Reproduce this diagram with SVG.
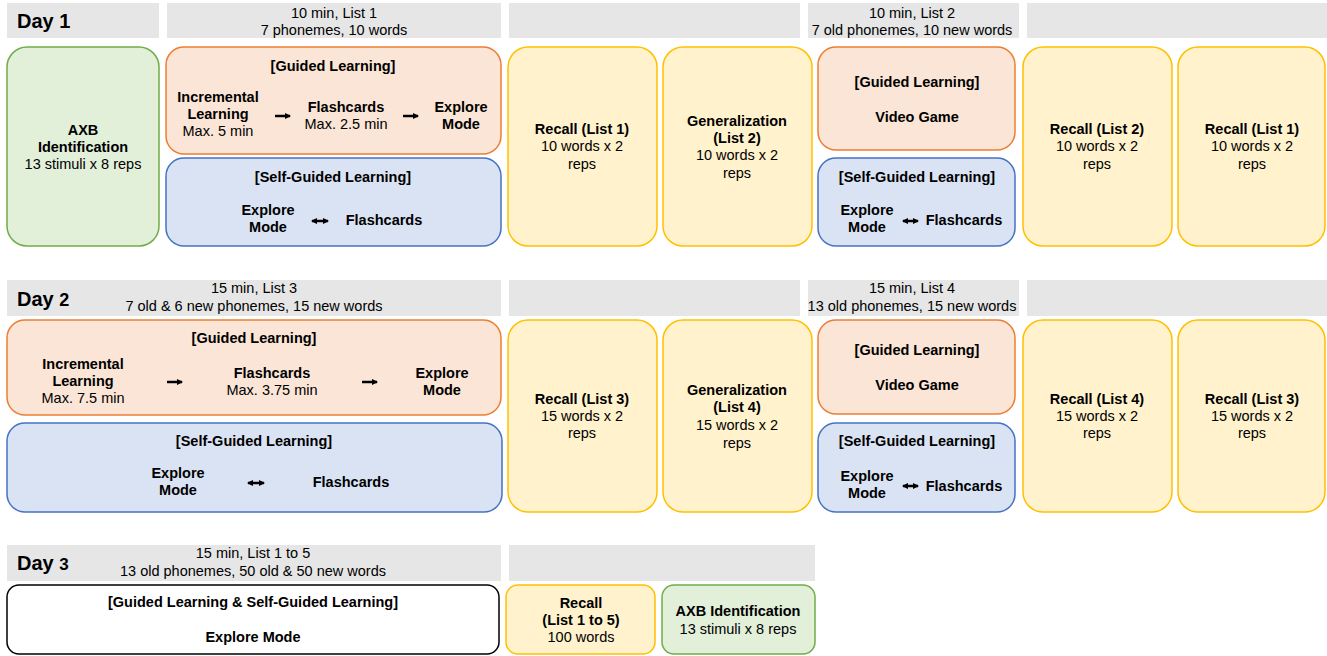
<svg xmlns="http://www.w3.org/2000/svg" width="1327" height="656" viewBox="0 0 1327 656">
<defs>
<style>
text{font-family:"Liberation Sans",Arial,sans-serif;font-size:14.5px;fill:#000;text-anchor:middle}
.b{font-weight:bold}
.day{font-weight:bold;font-size:20px;text-anchor:start}
.hdr{fill:#e6e6e6}
.green{fill:#e2efd9;stroke:#70ad47;stroke-width:1.5}
.orange{fill:#fbe5d6;stroke:#ed7d31;stroke-width:1.5}
.blue{fill:#dae3f3;stroke:#4472c4;stroke-width:1.5}
.yellow{fill:#fff2cc;stroke:#ffc000;stroke-width:1.5}
.white{fill:#fff;stroke:#000;stroke-width:1.5}
.arr{stroke:#000;stroke-width:2.5;fill:none}
</style>
<marker id="ah" viewBox="0 0 6 6" refX="5" refY="3" markerWidth="2.6" markerHeight="2.6" orient="auto-start-reverse" markerUnits="strokeWidth">
<path d="M0,0 L6,3 L0,6 z" fill="#000"/>
</marker>
</defs>
<rect width="1327" height="656" fill="#fff"/>

<g id="headers">
<rect class="hdr" x="7" y="3" width="152" height="35"/>
<text class="day" x="17" y="28">Day 1</text>
<rect class="hdr" x="167" y="3" width="334" height="35"/>
<text x="334" y="18">10 min, List 1</text>
<text x="334" y="35">7 phonemes, 10 words</text>
<rect class="hdr" x="509" y="3" width="291" height="35"/>
<rect class="hdr" x="808" y="3" width="211" height="35"/>
<text x="912" y="18">10 min, List 2</text>
<text x="912" y="35">7 old phonemes, 10 new words</text>
<rect class="hdr" x="1027" y="3" width="300" height="35"/>

<rect class="hdr" x="7" y="280" width="494" height="36"/>
<text class="day" x="17" y="306">Day <tspan font-size="18">2</tspan></text>
<text x="254" y="293">15 min, List 3</text>
<text x="254" y="311">7 old &amp; 6 new phonemes, 15 new words</text>
<rect class="hdr" x="509" y="280" width="291" height="36"/>
<rect class="hdr" x="808" y="280" width="211" height="36"/>
<text x="912" y="293">15 min, List 4</text>
<text x="912" y="311">13 old phonemes, 15 new words</text>
<rect class="hdr" x="1027" y="280" width="300" height="36"/>

<rect class="hdr" x="7" y="545" width="494" height="36"/>
<text class="day" x="17" y="570">Day <tspan font-size="17">3</tspan></text>
<text x="253" y="558">15 min, List 1 to 5</text>
<text x="253" y="576">13 old phonemes, 50 old &amp; 50 new words</text>
<rect class="hdr" x="509" y="545" width="306" height="36"/>
</g>

<!-- Day 1 -->
<g id="d1-axb">
<rect class="green" x="7" y="47" width="152" height="199" rx="20"/>
<text class="b" x="83" y="135">AXB</text>
<text class="b" x="83" y="152">Identification</text>
<text x="83" y="169">13 stimuli x 8 reps</text>
</g>
<g id="d1-guided">
<rect class="orange" x="166" y="47" width="335" height="107" rx="18"/>
<text class="b" x="333" y="71">[Guided Learning]</text>
<text class="b" x="218" y="102">Incremental</text>
<text class="b" x="218" y="119">Learning</text>
<text x="218" y="136">Max. 5 min</text>
<text class="b" x="346" y="112">Flashcards</text>
<text x="346" y="129">Max. 2.5 min</text>
<text class="b" x="461" y="112">Explore</text>
<text class="b" x="461" y="129">Mode</text>
</g>
<g id="d1-self">
<rect class="blue" x="166" y="158" width="335" height="88" rx="18"/>
<text class="b" x="333" y="182">[Self-Guided Learning]</text>
<text class="b" x="268" y="215">Explore</text>
<text class="b" x="268" y="232">Mode</text>
<text class="b" x="384" y="225">Flashcards</text>
</g>
<g id="d1-recall1">
<rect class="yellow" x="508" y="47" width="149" height="199" rx="20"/>
<text class="b" x="582" y="134">Recall (List 1)</text>
<text x="582" y="151">10 words x 2</text>
<text x="582" y="169">reps</text>
</g>
<g id="d1-gen2">
<rect class="yellow" x="663" y="47" width="149" height="199" rx="20"/>
<text class="b" x="737" y="126">Generalization</text>
<text class="b" x="737" y="143">(List 2)</text>
<text x="737" y="160">10 words x 2</text>
<text x="737" y="178">reps</text>
</g>
<g id="d1-guided2">
<rect class="orange" x="818" y="47" width="197" height="103" rx="18"/>
<text class="b" x="917" y="87">[Guided Learning]</text>
<text class="b" x="917" y="122">Video Game</text>
</g>
<g id="d1-self2">
<rect class="blue" x="818" y="158" width="197" height="88" rx="18"/>
<text class="b" x="917" y="182">[Self-Guided Learning]</text>
<text class="b" x="867" y="215">Explore</text>
<text class="b" x="867" y="232">Mode</text>
<text class="b" x="964" y="225">Flashcards</text>
</g>
<g id="d1-recall2">
<rect class="yellow" x="1023" y="47" width="149" height="199" rx="20"/>
<text class="b" x="1097" y="134">Recall (List 2)</text>
<text x="1097" y="151">10 words x 2</text>
<text x="1097" y="169">reps</text>
</g>
<g id="d1-recall1b">
<rect class="yellow" x="1178" y="47" width="147" height="199" rx="20"/>
<text class="b" x="1252" y="134">Recall (List 1)</text>
<text x="1252" y="151">10 words x 2</text>
<text x="1252" y="169">reps</text>
</g>

<!-- Day 2 -->
<g id="d2-guided">
<rect class="orange" x="7" y="320" width="494" height="95" rx="18"/>
<text class="b" x="254" y="343">[Guided Learning]</text>
<text class="b" x="83" y="369">Incremental</text>
<text class="b" x="83" y="386">Learning</text>
<text x="83" y="403">Max. 7.5 min</text>
<text class="b" x="272" y="378">Flashcards</text>
<text x="272" y="395">Max. 3.75 min</text>
<text class="b" x="442" y="378">Explore</text>
<text class="b" x="442" y="395">Mode</text>
</g>
<g id="d2-self">
<rect class="blue" x="7" y="423" width="495" height="89" rx="18"/>
<text class="b" x="254" y="446">[Self-Guided Learning]</text>
<text class="b" x="178" y="478">Explore</text>
<text class="b" x="178" y="495">Mode</text>
<text class="b" x="351" y="487">Flashcards</text>
</g>
<g id="d2-recall3">
<rect class="yellow" x="508" y="320" width="149" height="192" rx="20"/>
<text class="b" x="582" y="404">Recall (List 3)</text>
<text x="582" y="421">15 words x 2</text>
<text x="582" y="438">reps</text>
</g>
<g id="d2-gen4">
<rect class="yellow" x="663" y="320" width="149" height="192" rx="20"/>
<text class="b" x="737" y="395">Generalization</text>
<text class="b" x="737" y="412">(List 4)</text>
<text x="737" y="430">15 words x 2</text>
<text x="737" y="448">reps</text>
</g>
<g id="d2-guided2">
<rect class="orange" x="818" y="320" width="197" height="94" rx="18"/>
<text class="b" x="917" y="355">[Guided Learning]</text>
<text class="b" x="917" y="390">Video Game</text>
</g>
<g id="d2-self2">
<rect class="blue" x="818" y="423" width="197" height="89" rx="18"/>
<text class="b" x="917" y="446">[Self-Guided Learning]</text>
<text class="b" x="867" y="481">Explore</text>
<text class="b" x="867" y="498">Mode</text>
<text class="b" x="964" y="491">Flashcards</text>
</g>
<g id="d2-recall4">
<rect class="yellow" x="1023" y="320" width="149" height="192" rx="20"/>
<text class="b" x="1097" y="404">Recall (List 4)</text>
<text x="1097" y="421">15 words x 2</text>
<text x="1097" y="438">reps</text>
</g>
<g id="d2-recall3b">
<rect class="yellow" x="1178" y="320" width="147" height="192" rx="20"/>
<text class="b" x="1252" y="404">Recall (List 3)</text>
<text x="1252" y="421">15 words x 2</text>
<text x="1252" y="438">reps</text>
</g>

<!-- Day 3 -->
<g id="d3-learning">
<rect class="white" x="7" y="585" width="492" height="69" rx="12"/>
<text class="b" x="253" y="607">[Guided Learning &amp; Self-Guided Learning]</text>
<text class="b" x="253" y="642">Explore Mode</text>
</g>
<g id="d3-recall">
<rect class="yellow" x="506" y="585" width="149" height="69" rx="12"/>
<text class="b" x="581" y="608">Recall</text>
<text class="b" x="581" y="625">(List 1 to 5)</text>
<text x="581" y="642">100 words</text>
</g>
<g id="d3-axb">
<rect class="green" x="662" y="585" width="153" height="69" rx="12"/>
<text class="b" x="738" y="616">AXB Identification</text>
<text x="738" y="634">13 stimuli x 8 reps</text>
</g>

<g id="connectors">
<line class="arr" x1="275" y1="116" x2="290" y2="116" marker-end="url(#ah)"/>
<line class="arr" x1="403" y1="116" x2="418" y2="116" marker-end="url(#ah)"/>
<line class="arr" x1="312" y1="221" x2="328" y2="221" marker-start="url(#ah)" marker-end="url(#ah)"/>
<line class="arr" x1="903" y1="221" x2="918" y2="221" marker-start="url(#ah)" marker-end="url(#ah)"/>
<line class="arr" x1="167" y1="382" x2="182" y2="382" marker-end="url(#ah)"/>
<line class="arr" x1="362" y1="382" x2="377" y2="382" marker-end="url(#ah)"/>
<line class="arr" x1="248" y1="483" x2="264" y2="483" marker-start="url(#ah)" marker-end="url(#ah)"/>
<line class="arr" x1="903" y1="486" x2="918" y2="486" marker-start="url(#ah)" marker-end="url(#ah)"/>
</g>
</svg>
